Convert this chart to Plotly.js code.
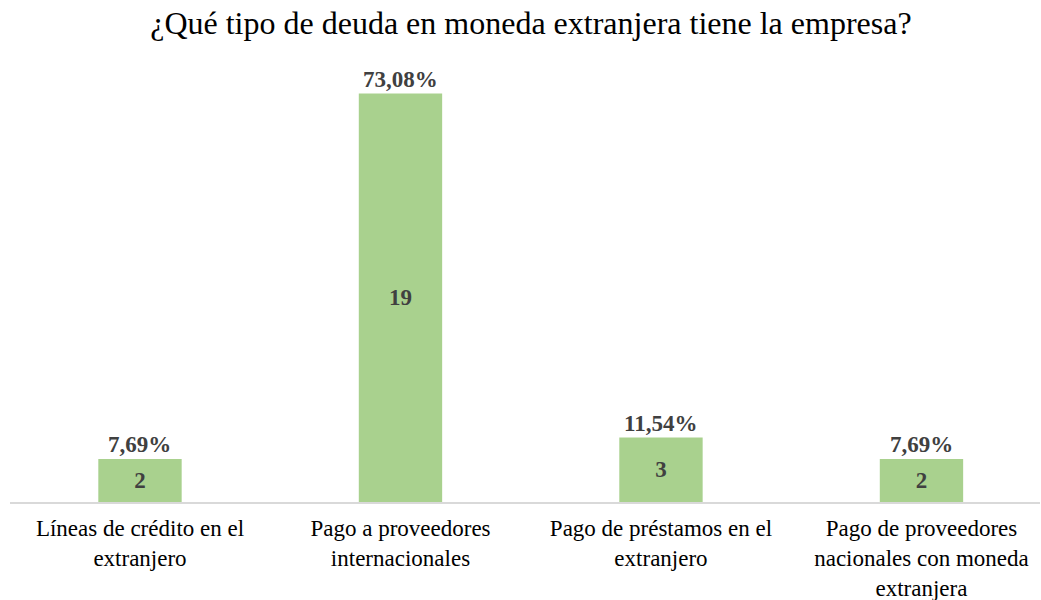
<!DOCTYPE html>
<html>
<head>
<meta charset="utf-8">
<script src="https://cdn.plot.ly/plotly-3.0.1.min.js"></script>
<style>html,body{margin:0;padding:0;background:#fff;}#chart{width:1041px;height:600px;}</style>
</head>
<body>
<div id="chart"></div>
<script>
var categories = [
  "Líneas de crédito en el<br>extranjero",
  "Pago a proveedores<br>internacionales",
  "Pago de préstamos en el<br>extranjero",
  "Pago de proveedores<br>nacionales con moneda<br>extranjera"
];
var counts = [2, 19, 3, 2];
var percentLabels = ["7,69%", "73,08%", "11,54%", "7,69%"];

var serif = "Liberation Serif, Times New Roman, serif";
var textGray = "#404040";

var trace = {
  type: "bar",
  x: categories,
  y: counts,
  text: counts.map(String),
  textposition: "inside",
  insidetextanchor: "middle",
  textfont: {family: serif, size: 23, color: textGray, weight: "bold"},
  marker: {color: "#A9D18E"},
  hoverinfo: "none",
  cliponaxis: false
};

var annotations = categories.map(function (c, i) {
  return {
    x: c, y: counts[i], xref: "x", yref: "y",
    text: "<b>" + percentLabels[i] + "</b>",
    showarrow: false, yanchor: "bottom", yshift: 0,
    font: {family: serif, size: 23, color: textGray}
  };
});

var layout = {
  width: 1041, height: 600,
  margin: {l: 10, r: 1, t: 72, b: 98},
  paper_bgcolor: "#ffffff", plot_bgcolor: "#ffffff",
  font: {family: serif},
  title: {
    text: "¿Qué tipo de deuda en moneda extranjera tiene la empresa?",
    font: {family: serif, size: 32, color: "#000000"},
    x: 0.51, xanchor: "center", y: 0.962, yanchor: "middle"
  },
  bargap: 0.68,
  showlegend: false,
  xaxis: {
    type: "category",
    range: [-0.499, 3.455],
    showline: true, linecolor: "#d9d9d9", linewidth: 1.5,
    ticks: "", showgrid: false, zeroline: false,
    ticklabelstandoff: 5,
    tickfont: {family: serif, size: 23, color: "#000000"},
    fixedrange: true
  },
  yaxis: {
    range: [0, 20],
    showticklabels: false, showgrid: false, zeroline: false, showline: false,
    fixedrange: true
  },
  annotations: annotations
};

Plotly.newPlot("chart", [trace], layout, {displayModeBar: false, staticPlot: true});
</script>
</body>
</html>
